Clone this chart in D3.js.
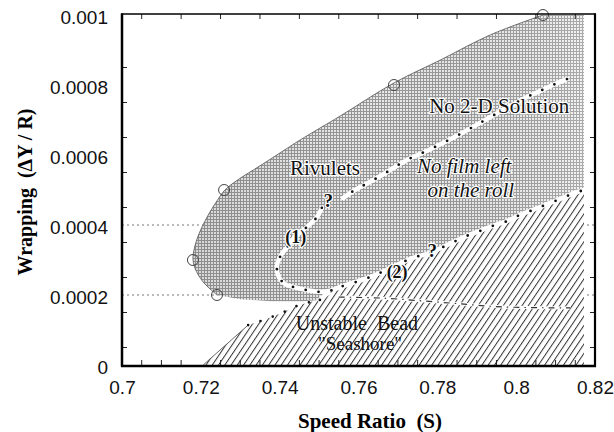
<!DOCTYPE html>
<html><head><meta charset="utf-8">
<script src="https://cdn.jsdelivr.net/npm/d3@7"></script>
<style>body{margin:0;background:#fff}svg{display:block}</style>
</head><body>
<svg id="chart" width="614" height="432"></svg>
<script>
// ---- data ----
const xTickValues = [0.7, 0.72, 0.74, 0.76, 0.78, 0.8, 0.82];
const xTickLabels = ["0.7", "0.72", "0.74", "0.76", "0.78", "0.8", "0.82"];
const yTickValues = [0, 0.0002, 0.0004, 0.0006, 0.0008, 0.001];
const yTickLabels = ["0", "0.0002", "0.0004", "0.0006", "0.0008", "0.001"];
const xMinorTop = [0.705, 0.715, 0.725, 0.735, 0.745, 0.755, 0.765, 0.775, 0.785, 0.795, 0.805, 0.815];
const xMinorBottom = [0.705, 0.71, 0.715, 0.725, 0.73, 0.735, 0.745, 0.75, 0.755, 0.765, 0.77, 0.775, 0.785, 0.79, 0.795, 0.805, 0.81, 0.815];
const yMinor = [0.00005, 0.00015, 0.00025, 0.00035, 0.00045, 0.00055, 0.00065, 0.00075, 0.00085];
const gridY = [0.0002, 0.0004];

// measured points (open circles)
const circleS = [0.7241, 0.7180, 0.7259, 0.7690, 0.8068];
const circleY = [0.0002, 0.0003, 0.0005, 0.0008, 0.001];

// envelope (upper/left boundary of the film region)
const envS = [0.7241, 0.7206, 0.7185, 0.7180, 0.7185, 0.7195, 0.7216, 0.7241, 0.7261, 0.7294, 0.7350, 0.7401, 0.7452, 0.7553, 0.7690, 0.7807, 0.7934, 0.8068];
const envY = [0.0002, 0.000237, 0.000277, 0.000306, 0.00034, 0.000374, 0.000423, 0.000469, 0.0005, 0.000529, 0.000569, 0.000606, 0.000643, 0.000711, 0.000806, 0.000871, 0.000943, 0.001];

// right limit of the data region
const rightS = 0.8172;

// lower edge of the gray region (from curve (2) back to the envelope)
const grayBottomS = [0.7502, 0.7460, 0.7380, 0.7300, 0.7241];
const grayBottomY = [0.000186, 0.000182, 0.000182, 0.000188, 0.0002];

// curve (2): upper boundary of the hatched "seashore" region
const curve2S = [0.7477, 0.7502, 0.7535, 0.7609, 0.7642, 0.7738, 0.7781, 0.7840, 0.7875, 0.7908, 0.7939, 0.7977, 0.8010, 0.8043, 0.8073, 0.8111, 0.8142, 0.8172];
const curve2Y = [0.000180, 0.000186, 0.000214, 0.000243, 0.000257, 0.000306, 0.000320, 0.000351, 0.000369, 0.000383, 0.000397, 0.000411, 0.000429, 0.000443, 0.000457, 0.000474, 0.000489, 0.0005];

// lower-left edge of the bead region
const beadS = [0.7206, 0.7320, 0.7373, 0.7406, 0.7444, 0.7477];
const beadY = [0, 0.000114, 0.000134, 0.000149, 0.000169, 0.000180];

// curve (1): upper part and lower part (split by the "?")
const curve1aS = [0.8129, 0.8093, 0.8061, 0.8028, 0.7926, 0.7863, 0.7794, 0.7756, 0.7723, 0.7660, 0.7624, 0.7591, 0.7561];
const curve1aY = [0.000817, 0.0008, 0.000783, 0.000766, 0.000703, 0.000663, 0.000623, 0.000603, 0.000586, 0.000543, 0.00052, 0.0005, 0.000477];
const curve1bS = [0.7507, 0.7495, 0.7469, 0.7439, 0.7419, 0.7401, 0.7393, 0.7398, 0.7414, 0.7434, 0.7469, 0.7502, 0.7535];
const curve1bY = [0.000449, 0.000423, 0.000394, 0.000366, 0.000337, 0.000309, 0.000283, 0.000251, 0.000231, 0.000223, 0.000214, 0.000209, 0.000214];

// dash-dot line through the bead region
const dashS = [0.7550, 0.7662, 0.7832, 0.7967, 0.8137];
const dashY = [0.000194, 0.000191, 0.000177, 0.000166, 0.000163];

// ---- drawing ----
const svg = d3.select("#chart");
const x = d3.scaleLinear().domain([0.7, 0.82]).range([122, 595]);
const y = d3.scaleLinear().domain([0, 0.001]).range([365, 15]);
const zip = (a, b) => a.map((v, i) => [v, b[i]]);

const defs = svg.append("defs");
const grid = defs.append("pattern").attr("id", "grid").attr("patternUnits", "userSpaceOnUse")
  .attr("width", 3).attr("height", 3);
grid.append("rect").attr("width", 3).attr("height", 3).attr("fill", "#f0f0f0");
grid.append("rect").attr("width", 3).attr("height", 1).attr("fill", "#9c9c9c");
grid.append("rect").attr("width", 1).attr("height", 3).attr("fill", "#9c9c9c");

const hatch = defs.append("pattern").attr("id", "hatch").attr("patternUnits", "userSpaceOnUse")
  .attr("width", 5.2).attr("height", 10).attr("patternTransform", "rotate(34)");
hatch.append("rect").attr("width", 5.2).attr("height", 10).attr("fill", "#fff");
hatch.append("line").attr("x1", 0.5).attr("x2", 0.5).attr("y1", 0).attr("y2", 10)
  .attr("stroke", "#333").attr("stroke-width", 1);

const shade = defs.append("linearGradient").attr("id", "shade").attr("x1", 0).attr("x2", 1).attr("y1", 0).attr("y2", 0);
shade.append("stop").attr("offset", 0).attr("stop-color", "#000").attr("stop-opacity", 0.10);
shade.append("stop").attr("offset", 0.5).attr("stop-color", "#000").attr("stop-opacity", 0.03);
shade.append("stop").attr("offset", 1).attr("stop-color", "#fff").attr("stop-opacity", 0.15);

// gridlines
svg.append("g").selectAll("line").data(gridY).join("line")
  .attr("x1", x(0.7)).attr("x2", x(0.82)).attr("y1", d => y(d)).attr("y2", d => y(d))
  .attr("stroke", "#777").attr("stroke-width", 1).attr("stroke-dasharray", "2,3");

const envLine = d3.line().x(d => x(d[0])).y(d => y(d[1])).curve(d3.curveCatmullRom.alpha(0.5));
const lin = d3.line().x(d => x(d[0])).y(d => y(d[1]));
const envPath = envLine(zip(envS, envY));

// gray region
const grayRest = [[rightS, 0.001], [rightS, 0.0005]]
  .concat(zip(curve2S, curve2Y).reverse())
  .concat(zip(grayBottomS, grayBottomY));
const grayD = envPath + grayRest.map(p => "L" + x(p[0]) + "," + y(p[1])).join("") + "Z";
svg.append("path").attr("d", grayD).attr("fill", "url(#grid)");
svg.append("path").attr("d", grayD).attr("fill", "url(#shade)");

// hatched region
const hatchPts = zip(beadS, beadY).concat(zip(curve2S, curve2Y).slice(1)).concat([[rightS, 0]]);
svg.append("path").attr("d", lin(hatchPts) + "Z").attr("fill", "url(#hatch)");

// envelope line
svg.append("path").attr("d", envPath).attr("fill", "none").attr("stroke", "#555").attr("stroke-width", 0.8);

// bead edge: thin line then dots
svg.append("path").attr("d", lin(zip(beadS, beadY).slice(0, 2))).attr("fill", "none")
  .attr("stroke", "#444").attr("stroke-width", 0.8);
svg.append("path").attr("d", lin(zip(beadS, beadY).slice(1))).attr("fill", "none")
  .attr("stroke", "#111").attr("stroke-width", 2.6).attr("stroke-linecap", "round").attr("stroke-dasharray", "0,13");

// dotted white curves
const smooth = d3.line().x(d => x(d[0])).y(d => y(d[1])).curve(d3.curveCatmullRom.alpha(0.5));
function dotted(pts, gap) {
  svg.append("path").attr("d", smooth(pts)).attr("fill", "none").attr("stroke", "#fff")
    .attr("stroke-width", 4.5).attr("stroke-linecap", "round");
  svg.append("path").attr("d", smooth(pts)).attr("fill", "none").attr("stroke", "#111")
    .attr("stroke-width", 2.8).attr("stroke-linecap", "round").attr("stroke-dasharray", "0," + gap);
}
dotted(zip(curve2S, curve2Y).slice(1), 13.5);
dotted(zip(curve1aS, curve1aY), 13.5);
dotted(zip(curve1bS, curve1bY), 13);

// dash-dot line
svg.append("path").attr("d", smooth(zip(dashS, dashY))).attr("fill", "none").attr("stroke", "#fff")
  .attr("stroke-width", 3);
svg.append("path").attr("d", smooth(zip(dashS, dashY))).attr("fill", "none").attr("stroke", "#333")
  .attr("stroke-width", 1.2).attr("stroke-dasharray", "6,5,1.5,5");

// circles
svg.append("g").selectAll("circle").data(zip(circleS, circleY)).join("circle")
  .attr("cx", d => x(d[0])).attr("cy", d => y(d[1])).attr("r", 5.5)
  .attr("fill", "none").attr("stroke", "#444").attr("stroke-width", 1);

// region labels
const serif = "'Liberation Serif','Times New Roman',serif";
const labels = [
  {t: "Rivulets", s: 0.7515, v: 0.000543, size: 21, style: "normal", weight: "normal"},
  {t: "No 2-D Solution", s: 0.7957, v: 0.00072, size: 21, style: "normal", weight: "normal"},
  {t: "No film left", s: 0.7868, v: 0.000549, size: 21, style: "italic", weight: "normal"},
  {t: "on the roll", s: 0.7885, v: 0.000480, size: 21, style: "italic", weight: "normal"},
  {t: "?", s: 0.7523, v: 0.000451, size: 19, style: "normal", weight: "bold"},
  {t: "(1)", s: 0.7441, v: 0.000349, size: 18, style: "normal", weight: "bold"},
  {t: "(2)", s: 0.7698, v: 0.000249, size: 18, style: "normal", weight: "bold"},
  {t: "?", s: 0.7787, v: 0.000309, size: 19, style: "normal", weight: "bold"},
  {t: "Unstable  Bead", s: 0.7596, v: 0.000100, size: 20, style: "normal", weight: "normal"},
  {t: "\"Seashore\"", s: 0.7604, v: 0.000043, size: 19, style: "normal", weight: "normal"}
];
svg.append("g").selectAll("text").data(labels).join("text")
  .attr("x", d => x(d.s)).attr("y", d => y(d.v))
  .attr("text-anchor", "middle")
  .attr("font-family", serif).attr("font-size", d => d.size)
  .attr("font-style", d => d.style).attr("font-weight", d => d.weight)
  .attr("fill", "#111")
  .attr("stroke", d => d.v > 0.00022 ? "#fff" : "none").attr("stroke-width", 2.5)
  .attr("paint-order", "stroke").attr("stroke-linejoin", "round")
  .style("white-space", "pre")
  .text(d => d.t);

// minor ticks (inside)
const tk = svg.append("g").attr("stroke", "#222").attr("stroke-width", 1);
tk.selectAll(".tt").data(xMinorTop).join("line").attr("class", "tt")
  .attr("x1", d => x(d)).attr("x2", d => x(d)).attr("y1", 14).attr("y2", 19);
tk.selectAll(".tb").data(xMinorBottom).join("line").attr("class", "tb")
  .attr("x1", d => x(d)).attr("x2", d => x(d)).attr("y1", 365).attr("y2", 360);
tk.selectAll(".tl").data(yMinor).join("line").attr("class", "tl")
  .attr("x1", 122).attr("x2", 127).attr("y1", d => y(d)).attr("y2", d => y(d));
tk.selectAll(".tr").data(yMinor).join("line").attr("class", "tr")
  .attr("x1", 595).attr("x2", 590).attr("y1", d => y(d)).attr("y2", d => y(d));

// frame
svg.append("line").attr("x1", 122).attr("x2", 122).attr("y1", 13.5).attr("y2", 366.5).attr("stroke", "#000").attr("stroke-width", 2.5);
svg.append("line").attr("x1", 121).attr("x2", 596).attr("y1", 366).attr("y2", 366).attr("stroke", "#000").attr("stroke-width", 2.5);
svg.append("line").attr("x1", 595).attr("x2", 595).attr("y1", 13.5).attr("y2", 366.5).attr("stroke", "#000").attr("stroke-width", 2.2);
svg.append("line").attr("x1", 121).attr("x2", 596).attr("y1", 14).attr("y2", 14).attr("stroke", "#000").attr("stroke-width", 1.6);

// axes (labels)
const sans = "'Liberation Sans',Arial,sans-serif";
const xa = svg.append("g").attr("transform", "translate(0,365)")
  .call(d3.axisBottom(x).tickValues(xTickValues).tickSize(0).tickPadding(16)
    .tickFormat((d, i) => xTickLabels[i]));
xa.select(".domain").remove();
xa.selectAll("text").attr("font-family", sans).attr("font-size", 19).attr("fill", "#111");

const ya = svg.append("g").attr("transform", "translate(122,0)")
  .call(d3.axisLeft(y).tickValues(yTickValues).tickSize(0).tickPadding(14)
    .tickFormat((d, i) => yTickLabels[i]));
ya.select(".domain").remove();
ya.selectAll("text").attr("font-family", sans).attr("font-size", 19).attr("fill", "#111").attr("dy", "0.45em");

// axis titles
svg.append("text").attr("x", 370).attr("y", 428).attr("text-anchor", "middle")
  .attr("font-family", serif).attr("font-weight", "bold").attr("font-size", 21)
  .style("white-space", "pre").text("Speed Ratio  (S)");
svg.append("text").attr("transform", "translate(32,192) rotate(-90)").attr("text-anchor", "middle")
  .attr("font-family", serif).attr("font-weight", "bold").attr("font-size", 20)
  .style("white-space", "pre").text("Wrapping  (\u0394Y / R)");
</script>
</body></html>
